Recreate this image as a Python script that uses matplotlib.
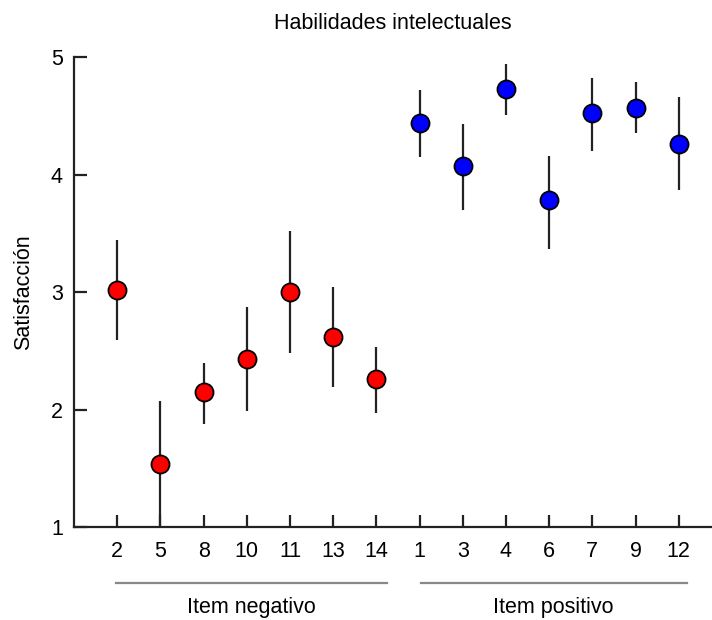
import matplotlib.pyplot as plt
import matplotlib.transforms as mtransforms

plt.rcParams['font.family'] = ['Liberation Sans', 'DejaVu Sans']

neg_items = ['2', '5', '8', '10', '11', '13', '14']
neg_mean = [3.02, 1.54, 2.15, 2.43, 3.00, 2.62, 2.26]
neg_low = [2.59, 1.00, 1.88, 1.99, 2.48, 2.19, 1.97]
neg_high = [3.44, 2.07, 2.40, 2.87, 3.52, 3.04, 2.53]

pos_items = ['1', '3', '4', '6', '7', '9', '12']
pos_mean = [4.44, 4.07, 4.73, 3.78, 4.52, 4.57, 4.26]
pos_low = [4.15, 3.70, 4.51, 3.37, 4.20, 4.35, 3.87]
pos_high = [4.72, 4.43, 4.94, 4.16, 4.82, 4.79, 4.66]

fig = plt.figure(figsize=(7.12, 6.2), dpi=100)
ax = fig.add_axes([0.104, 0.15, 0.896, 0.758])

groups = [
    (neg_items, neg_mean, neg_low, neg_high, 'red', 0),
    (pos_items, pos_mean, pos_low, pos_high, 'blue', len(neg_items)),
]
for items, mean, low, high, color, offset in groups:
    xs = [offset + i for i in range(len(items))]
    ax.vlines(xs, low, high, color='#222222', lw=1.6, zorder=2)
    ax.plot(xs, mean, 'o', ms=13, mfc=color, mec='black', mew=1.3,
            ls='none', zorder=3)

labels = neg_items + pos_items
ax.set_xticks(range(len(labels)))
ax.set_xticklabels(labels)
ax.set_xlim(-1.0, 13.77)
ax.set_ylim(1, 5)
ax.set_yticks([1, 2, 3, 4, 5])

for s in ['top', 'right']:
    ax.spines[s].set_visible(False)
for s in ['left', 'bottom']:
    ax.spines[s].set_linewidth(1.6)
    ax.spines[s].set_color('#222222')
ax.tick_params(direction='in', length=9, width=1.6, color='#222222',
               labelsize=15.5)
ax.tick_params(axis='x', pad=10)
ax.tick_params(axis='y', pad=8)

ax.set_ylabel('Satisfacción', fontsize=15.5, labelpad=12)
ax.set_title('Habilidades intelectuales', fontsize=15.5, pad=20)

trans = mtransforms.blended_transform_factory(ax.transData, ax.transAxes)
ax.plot([-0.02, 6.25], [-0.119, -0.119], color='#888888', lw=1.6,
        transform=trans, clip_on=False)
ax.plot([7.04, 13.19], [-0.119, -0.119], color='#888888', lw=1.6,
        transform=trans, clip_on=False)
ax.text(3.1, -0.172, 'Item negativo', transform=trans, ha='center',
        va='center', fontsize=15.5)
ax.text(10.1, -0.172, 'Item positivo', transform=trans, ha='center',
        va='center', fontsize=15.5)

fig.savefig('out.png', dpi=100)
